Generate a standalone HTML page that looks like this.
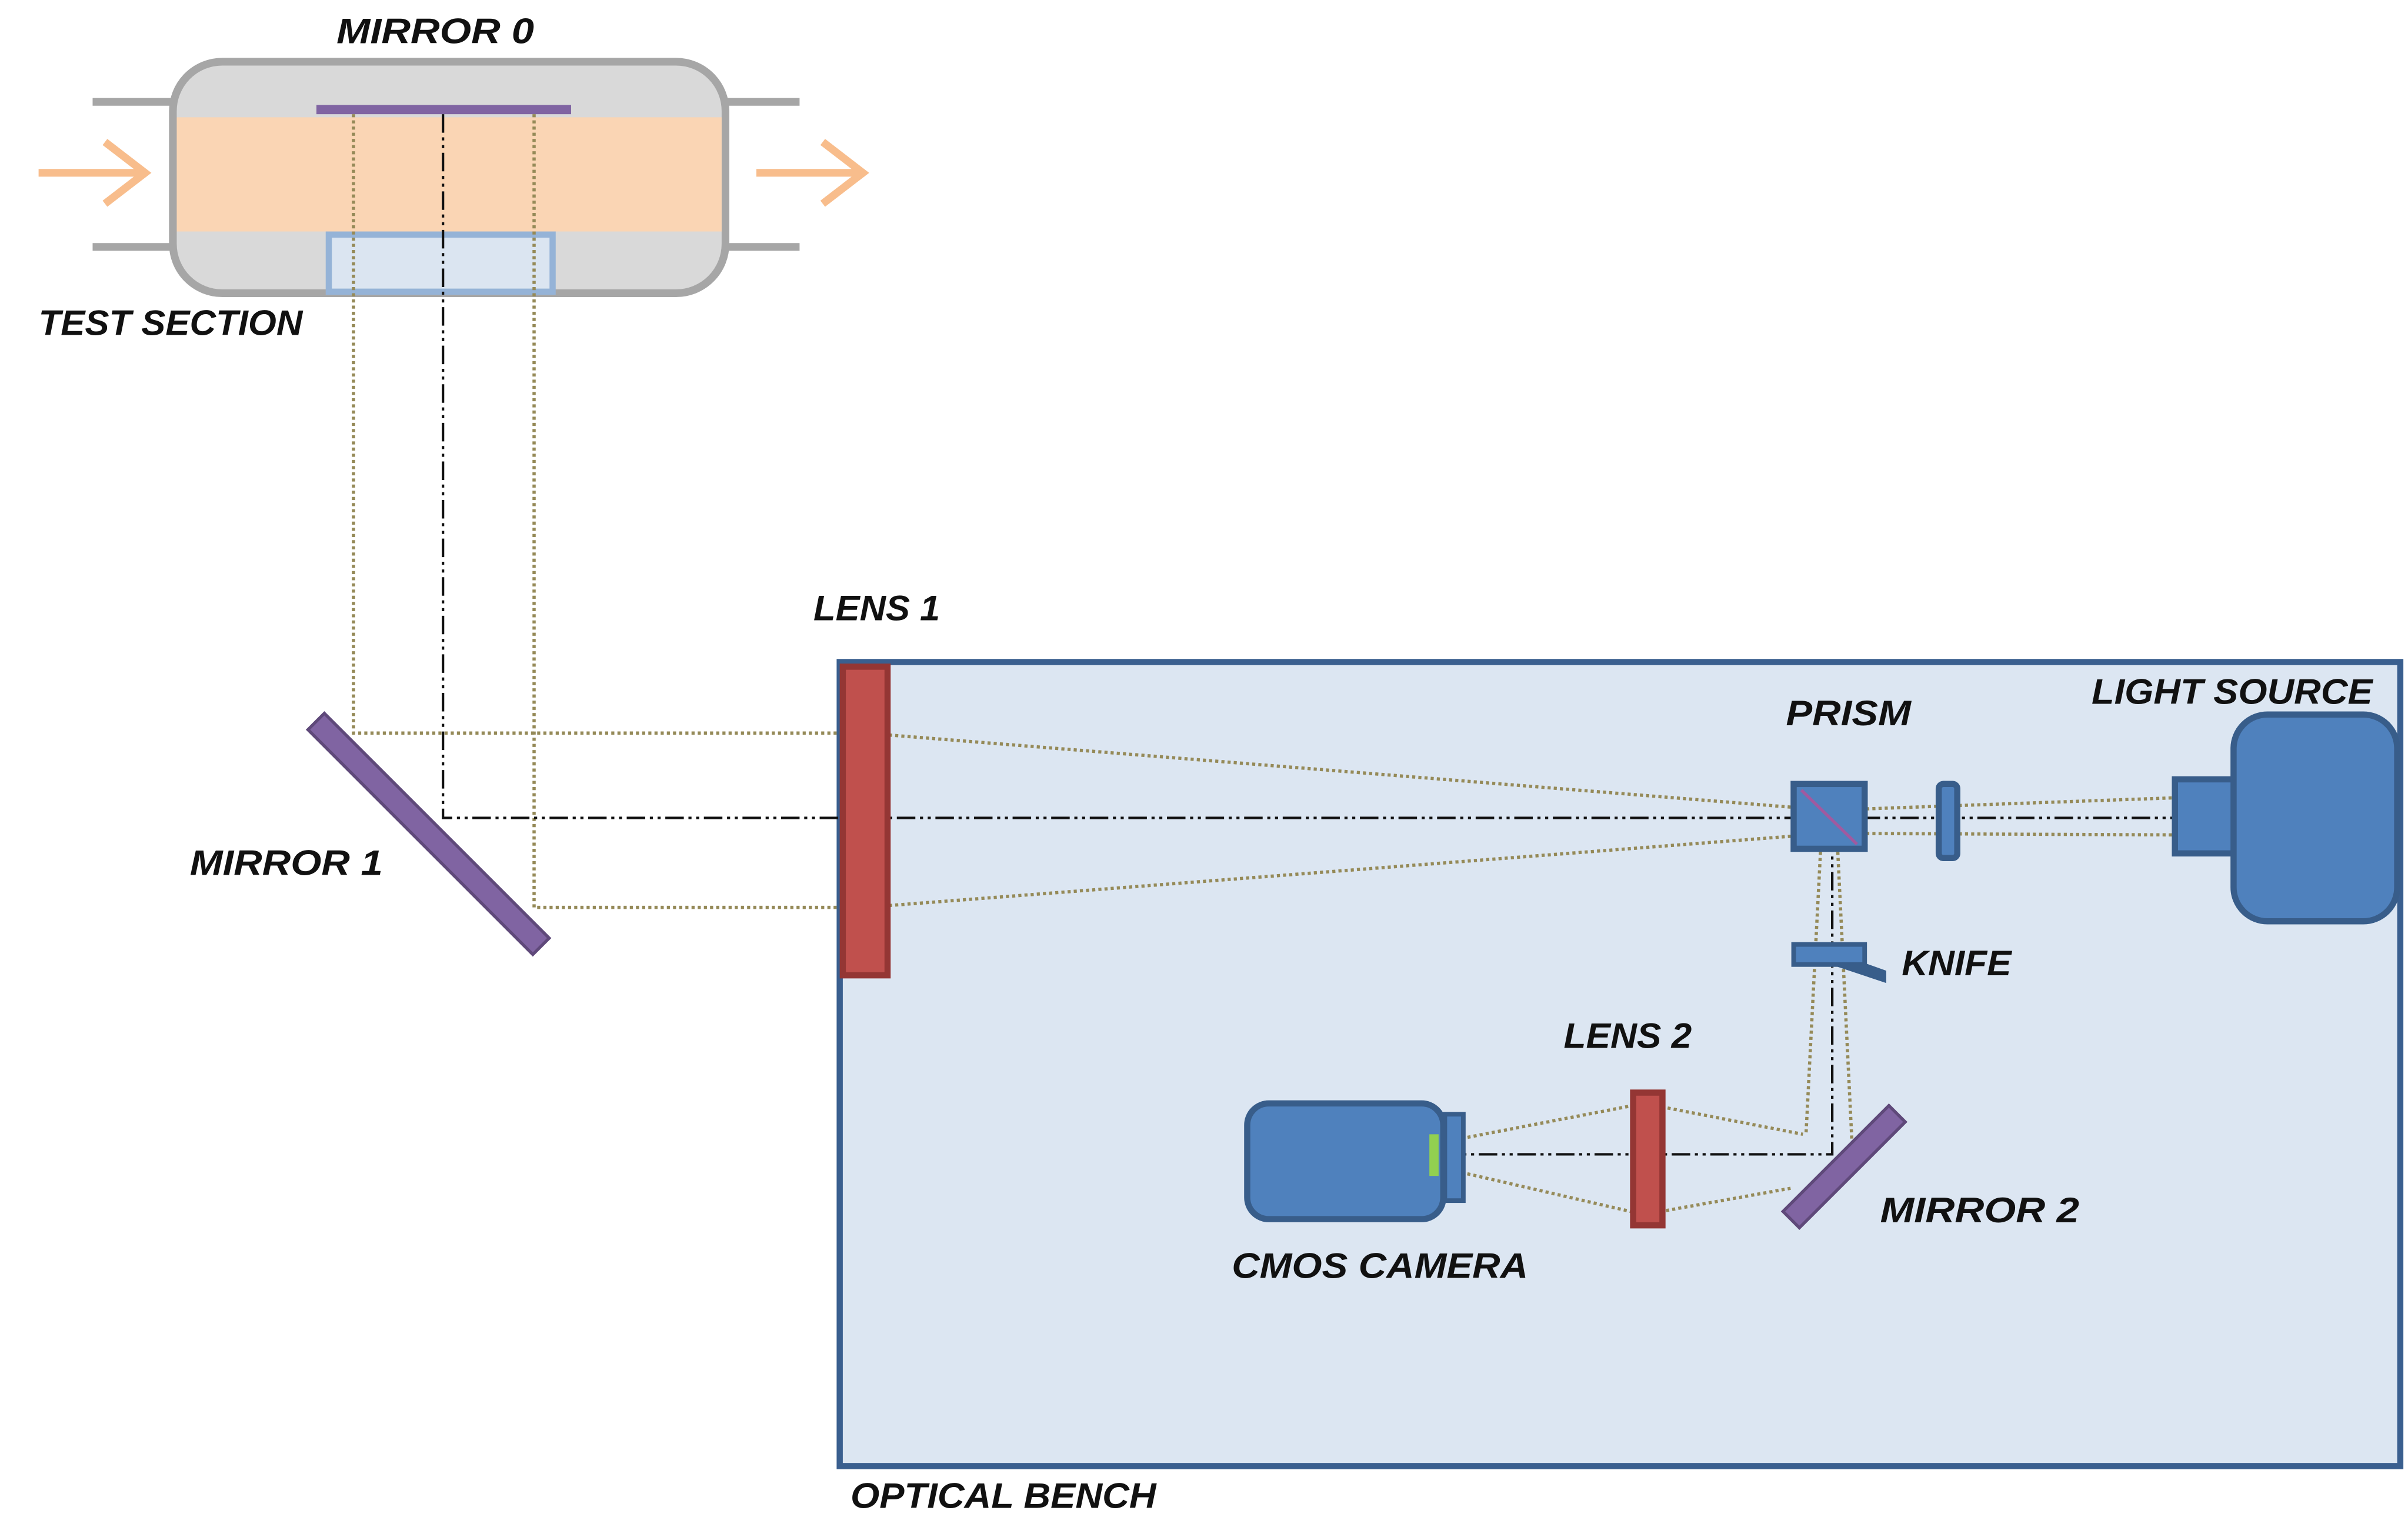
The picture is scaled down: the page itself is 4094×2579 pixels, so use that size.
<!DOCTYPE html>
<html><head><meta charset="utf-8"><style>
html,body{margin:0;padding:0;background:#fff;}
svg{display:block;}
text{font-family:"Liberation Sans",sans-serif;font-style:italic;font-weight:bold;font-size:23px;fill:#111;}
</style></head><body>
<svg width="4094" height="2579" viewBox="0 0 1560 983" preserveAspectRatio="none" xmlns="http://www.w3.org/2000/svg">
<rect width="1560" height="983" fill="#fff"/>
<g stroke="#a6a6a6" stroke-width="5">
<line x1="60" y1="66" x2="112" y2="66"/><line x1="60" y1="160" x2="112" y2="160"/>
<line x1="470" y1="66" x2="518" y2="66"/><line x1="470" y1="160" x2="518" y2="160"/>
</g>
<rect x="112" y="40" width="358" height="150" rx="32" fill="#d9d9d9" stroke="#a6a6a6" stroke-width="5"/>
<rect x="114.5" y="76" width="353" height="74" fill="#fad5b4"/>
<rect x="213" y="152" width="145" height="37" fill="#dbe5f1" stroke="#95b3d7" stroke-width="4"/>
<rect x="205" y="68" width="165" height="6" fill="#8064a2"/>
<g stroke="#f8bd8c" stroke-width="5" fill="none">
<line x1="25" y1="112" x2="95" y2="112"/><polyline points="68,92 94,112 68,132"/>
<line x1="490" y1="112" x2="560" y2="112"/><polyline points="533,92 559,112 533,132"/>
</g>
<rect x="544" y="429" width="1011" height="521" fill="#dce6f2" stroke="#3a5f8f" stroke-width="4"/>
<g stroke="#958a58" stroke-width="2.1" stroke-dasharray="2,2" fill="none">
<polyline points="229,74 229,475 560,475 1185,525"/>
<polyline points="346,74 346,588 560,588 1185,540"/>
<polyline points="1185,525 1408,517"/>
<polyline points="1185,540 1408,541"/>
<polyline points="1180,540 1170,735"/>
<polyline points="1190,540 1200,745"/>
<polyline points="935,740 1065,715 1168,735"/>
<polyline points="935,757 1065,787 1160,770"/>
</g>
<g stroke="#111" stroke-width="1.6" stroke-dasharray="12,3,2,3,2,3" fill="none">
<polyline points="287,74 287,530 1495,530"/>
<polyline points="1187,540 1187,748 935,748"/>
</g>
<rect x="175" y="533" width="206" height="15" fill="#8064a2" stroke="#5f497a" stroke-width="2" transform="rotate(45 278 540)"/>
<rect x="546" y="432" width="29" height="200" fill="#c0504d" stroke="#943634" stroke-width="4"/>
<rect x="1162" y="508" width="46" height="42" fill="#4f81bd" stroke="#385d8a" stroke-width="4"/>
<line x1="1167" y1="512" x2="1203" y2="547" stroke="#a05aa0" stroke-width="2"/>
<rect x="1256" y="508" width="12" height="48" rx="3" fill="#4f81bd" stroke="#385d8a" stroke-width="4"/>
<rect x="1409" y="505" width="40" height="48" fill="#4f81bd" stroke="#385d8a" stroke-width="4"/>
<rect x="1447" y="463" width="106" height="134" rx="22" fill="#4f81bd" stroke="#385d8a" stroke-width="4"/>
<rect x="1162" y="612" width="46" height="13" fill="#4f81bd" stroke="#385d8a" stroke-width="3"/>
<polygon points="1186,625 1208,624 1222,629 1222,637" fill="#385d8a"/>
<rect x="1146" y="749" width="97" height="15" fill="#8064a2" stroke="#5f497a" stroke-width="2" transform="rotate(-45 1194 756)"/>
<rect x="1058" y="708" width="19" height="86" fill="#c0504d" stroke="#943634" stroke-width="4"/>
<rect x="936" y="722" width="12" height="56" fill="#4f81bd" stroke="#385d8a" stroke-width="3"/>
<rect x="808" y="715" width="127" height="75" rx="14" fill="#4f81bd" stroke="#385d8a" stroke-width="4"/>
<rect x="926" y="735" width="6" height="27" fill="#92d050"/>
<text x="218" y="28" textLength="128" lengthAdjust="spacingAndGlyphs">MIRROR 0</text>
<text x="25" y="217" textLength="171" lengthAdjust="spacingAndGlyphs">TEST SECTION</text>
<text x="527" y="402" textLength="82" lengthAdjust="spacingAndGlyphs">LENS 1</text>
<text x="123" y="567" textLength="125" lengthAdjust="spacingAndGlyphs">MIRROR 1</text>
<text x="1157" y="470" textLength="81" lengthAdjust="spacingAndGlyphs">PRISM</text>
<text x="1355" y="456" textLength="182" lengthAdjust="spacingAndGlyphs">LIGHT SOURCE</text>
<text x="1232" y="632" textLength="71" lengthAdjust="spacingAndGlyphs">KNIFE</text>
<text x="1013" y="679" textLength="83" lengthAdjust="spacingAndGlyphs">LENS 2</text>
<text x="1218" y="792" textLength="129" lengthAdjust="spacingAndGlyphs">MIRROR 2</text>
<text x="798" y="828" textLength="192" lengthAdjust="spacingAndGlyphs">CMOS CAMERA</text>
<text x="551" y="977" textLength="198" lengthAdjust="spacingAndGlyphs">OPTICAL BENCH</text>
</svg>
</body></html>
